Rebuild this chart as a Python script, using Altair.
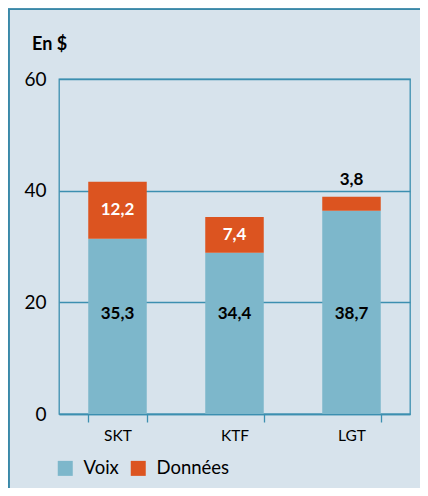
import altair as alt
import pandas as pd

operators = ["SKT", "KTF", "LGT"]
voix = [31.4, 28.9, 36.4]
donnees = [10.2, 6.4, 2.5]
voix_labels = ["35,3", "34,4", "38,7"]
donnees_labels = ["12,2", "7,4", "3,8"]
donnees_inside = [True, True, False]
series = ["Voix", "Données"]
colors = ["#7db7cb", "#dc5420"]
y_ticks = [0, 20, 40, 60]
unit_title = ["En $"]

LINE = "#3c8fb0"
FONT = "Lato"

rows = []
for i, op in enumerate(operators):
    rows.append({"op": op, "serie": "Voix", "val": voix[i], "ord": 0})
    rows.append({"op": op, "serie": "Données", "val": donnees[i], "ord": 1})
bars_df = pd.DataFrame(rows)

lab_rows = []
for i, op in enumerate(operators):
    if donnees_inside[i]:
        y = voix[i] + donnees[i] / 2
        col = "white"
    else:
        y = voix[i] + donnees[i] + 3
        col = "black"
    lab_rows.append({"op": op, "txt": donnees_labels[i], "y": y, "col": col})
don_df = pd.DataFrame(lab_rows)
voix_df = pd.DataFrame({"op": operators, "txt": voix_labels})
title_df = pd.DataFrame({"t": unit_title})

xenc = alt.X(
    "op:N",
    sort=operators,
    scale=alt.Scale(paddingInner=0.5, paddingOuter=0.25),
    axis=alt.Axis(
        title=None, labelAngle=0, tickBand="extent", tickSize=8, tickColor=LINE,
        tickWidth=1.3, domainColor=LINE, domainWidth=1.5, labelFontSize=15.5,
        labelColor="black", labelPadding=6, labelFont=FONT, grid=False,
    ),
)
yscale = alt.Scale(domain=[0, 60], nice=False, zero=True)

bars = alt.Chart(bars_df).mark_bar().encode(
    x=xenc,
    y=alt.Y(
        "val:Q", stack="zero", scale=yscale,
        axis=alt.Axis(
            title=None, values=y_ticks, ticks=False, domain=False, grid=True,
            gridColor=LINE, gridWidth=1.3, gridOpacity=1, labelFontSize=19,
            labelColor="black", labelPadding=13, labelFont=FONT,
        ),
    ),
    color=alt.Color(
        "serie:N",
        scale=alt.Scale(domain=series, range=colors),
        legend=alt.Legend(
            title=None, orient="none", direction="horizontal", legendX=-3,
            legendY=380, symbolType="square", symbolSize=225, symbolStrokeWidth=0,
            symbolOpacity=1, labelFontSize=18.5, labelFont=FONT, labelColor="black",
            labelOffset=9, columnPadding=10,
        ),
    ),
    order=alt.Order("ord:Q"),
)

voix_text = alt.Chart(voix_df).mark_text(
    font=FONT, fontSize=17, fontWeight="bold", color="black", baseline="middle"
).encode(x=alt.X("op:N", sort=operators), y=alt.YDatum(18), text="txt:N")

don_text = alt.Chart(don_df).mark_text(
    font=FONT, fontSize=17, fontWeight="bold", baseline="middle"
).encode(
    x=alt.X("op:N", sort=operators),
    y=alt.Y("y:Q", scale=yscale),
    text="txt:N",
    color=alt.Color("col:N", scale=None),
)

title_text = alt.Chart(title_df).mark_text(
    font=FONT, fontSize=18, fontWeight="bold", color="black", align="left",
    baseline="alphabetic",
).encode(x=alt.value(-27), y=alt.value(-29), text="t:N")

frame_left = alt.Chart(voix_df).mark_rule(color="#3a88a8", strokeWidth=1.6).encode(
    x=alt.value(-50.2), y=alt.value(-70), y2=alt.value(420)
)
frame_top = alt.Chart(voix_df).mark_rule(color="#3a88a8", strokeWidth=1.6).encode(
    x=alt.value(-51), x2=alt.value(372), y=alt.value(-69.8)
)

chart = alt.layer(frame_left, frame_top, bars, voix_text, don_text, title_text).properties(
    width=351,
    height=335,
    autosize=alt.AutoSizeParams(type="none"),
    padding={"left": 51, "top": 71, "right": 10, "bottom": 74},
).configure(background="#d7e3ec").configure_view(stroke=LINE, strokeWidth=1.3)

chart.save("out.html", embed_options={"renderer": "svg", "actions": False})
